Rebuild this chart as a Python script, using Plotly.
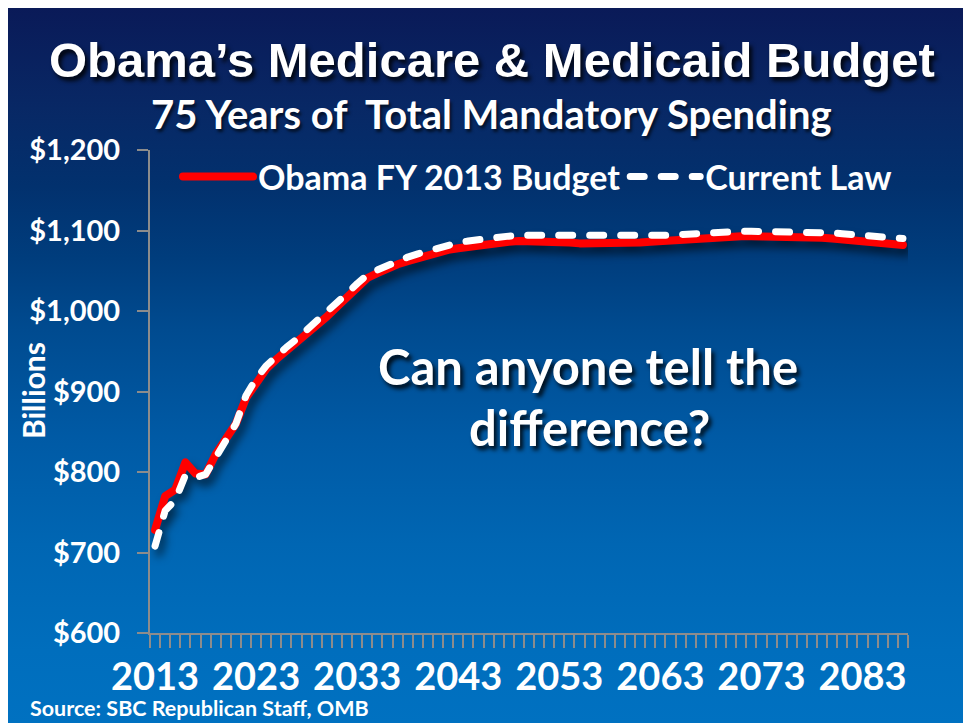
import base64
import plotly.graph_objects as go

# ---------------- data ----------------
years = list(range(2013, 2088))
obama_fy2013 = [
    728, 770, 778, 812, 798, 797, 822, 842, 860, 892,
    912, 928, 940, 950, 961, 971, 982, 993, 1005, 1017,
    1029, 1041, 1047, 1053, 1058, 1062, 1066, 1070, 1073, 1076,
    1078, 1080, 1082, 1084, 1085, 1086, 1087, 1087, 1086, 1086,
    1085, 1085, 1084, 1084, 1083, 1083, 1084, 1084, 1085, 1086,
    1087, 1088, 1089, 1090, 1091, 1091, 1092, 1092, 1093, 1093,
    1093, 1093, 1093, 1092, 1092, 1091, 1091, 1090, 1089, 1088,
    1087, 1086, 1085, 1083, 1082,
]
current_law = [
    708, 752, 765, 796, 793, 797, 818, 840, 860, 895,
    916, 932, 944, 955, 965, 976, 987, 998, 1010, 1022,
    1034, 1045, 1051, 1057, 1062, 1067, 1071, 1075, 1079, 1082,
    1085, 1087, 1089, 1091, 1092, 1093, 1094, 1094, 1094, 1094,
    1093, 1093, 1092, 1092, 1092, 1092, 1092, 1092, 1092, 1093,
    1093, 1094, 1095, 1096, 1097, 1097, 1098, 1098, 1099, 1099,
    1099, 1099, 1099, 1099, 1099, 1098, 1098, 1097, 1096, 1095,
    1094, 1093, 1092, 1091, 1090,
]
series_names = ["Obama FY 2013 Budget", "Current Law"]
y_tick_values = [600, 700, 800, 900, 1000, 1100, 1200]
y_tick_labels = ["$600", "$700", "$800", "$900", "$1,000", "$1,100", "$1,200"]
x_label_years = [2013, 2023, 2033, 2043, 2053, 2063, 2073, 2083]

title_text = "Obama\u2019s Medicare & Medicaid Budget"
subtitle_text = "75 Years of&nbsp; Total Mandatory Spending"
question_lines = ["Can anyone tell the", "difference?"]
source_text = "Source: SBC Republican Staff, OMB"
y_title = "Billions"

# ---------------- layout helpers ----------------
W, H = 963, 723
L, R, T, B = 150, 908, 150, 633


def px(x):
    return (x - L) / (R - L)


def py(y):
    return (B - y) / (B - T)


CAL = "Lato, 'Open Sans', sans-serif"
GRAY = "#8c8c8c"

# gradient background as an svg image
stops = [
    (0.00, "#0a1a58"), (0.14, "#082865"), (0.25, "#02316e"), (0.35, "#003d7d"),
    (0.45, "#004b90"), (0.60, "#005aa5"), (0.75, "#0066b3"), (0.90, "#006ebd"),
    (1.00, "#0071c1"),
]
stop_xml = "".join(f'<stop offset="{o}" stop-color="{c}"/>' for o, c in stops)
svg = (
    '<svg xmlns="http://www.w3.org/2000/svg" width="100" height="100" preserveAspectRatio="none">'
    f'<defs><linearGradient id="g" x1="0" y1="0" x2="0" y2="1">{stop_xml}</linearGradient></defs>'
    '<rect width="100" height="100" fill="url(#g)"/></svg>'
)
bg_src = "data:image/svg+xml;base64," + base64.b64encode(svg.encode()).decode()

fig = go.Figure()
fig.add_trace(go.Scatter(
    x=years, y=obama_fy2013, name=series_names[0], mode="lines",
    line=dict(color="#ff0000", width=8),
))
fig.add_trace(go.Scatter(
    x=years, y=current_law, name=series_names[1], mode="lines",
    line=dict(color="#ffffff", width=7, dash="14px,17px"),
))

fig.update_layout(
    width=W, height=H,
    margin=dict(l=L, r=W - R, t=T, b=H - B, pad=0),
    paper_bgcolor="#ffffff",
    plot_bgcolor="rgba(0,0,0,0)",
    showlegend=True,
    legend=dict(
        orientation="h", x=px(178), y=py(148), xanchor="left", yanchor="top",
        font=dict(family=CAL, size=34, color="white", weight=700),
        bgcolor="rgba(0,0,0,0)", itemwidth=70, traceorder="normal",
    ),
    images=[dict(
        source=bg_src, xref="paper", yref="paper",
        x=px(8), y=py(8), sizex=px(W) - px(8), sizey=py(8) - py(H),
        xanchor="left", yanchor="top", sizing="stretch", layer="below",
    )],
    xaxis=dict(
        range=[2012.5, 2087.5], showgrid=False, zeroline=False,
        showline=True, linecolor=GRAY, linewidth=2,
        tickmode="array", tickvals=x_label_years, ticktext=[str(v) for v in x_label_years],
        ticks="", ticklabelstandoff=9,
        tickfont=dict(family=CAL, size=38, color="white", weight=700),
        minor=dict(ticks="outside", tick0=2012.5, dtick=1, ticklen=13, tickcolor=GRAY,
                   tickwidth=2, showgrid=False),
    ),
    yaxis=dict(
        range=[600, 1200], showgrid=False, zeroline=False,
        showline=True, linecolor=GRAY, linewidth=2,
        tickmode="array", tickvals=y_tick_values, ticktext=y_tick_labels,
        ticks="outside", ticklen=11, tickcolor=GRAY, tickwidth=2,
        ticklabelstandoff=11,
        tickfont=dict(family=CAL, size=29, color="white", weight=700),
    ),
)

shadow_big = "3px 4px 4px rgba(0,0,0,0.85)"
ann = [
    dict(text=title_text, x=px(492), y=py(60), xanchor="center", yanchor="middle",
         font=dict(family="'Liberation Sans', Arial, sans-serif", size=49, color="white",
                   weight=700, shadow=shadow_big)),
    dict(text=subtitle_text, x=px(491), y=py(114), xanchor="center", yanchor="middle",
         font=dict(family=CAL, size=40, color="white", weight=700,
                   shadow="2px 3px 3px rgba(0,0,0,0.6)")),
    dict(text=question_lines[0], x=px(588), y=py(366), xanchor="center", yanchor="middle",
         font=dict(family=CAL, size=49, color="white", weight=700, shadow=shadow_big)),
    dict(text=question_lines[1], x=px(589), y=py(427), xanchor="center", yanchor="middle",
         font=dict(family=CAL, size=49, color="white", weight=700, shadow=shadow_big)),
    dict(text=source_text, x=px(28), y=py(708), xanchor="left", yanchor="middle",
         font=dict(family=CAL, size=21.5, color="white", weight=700)),
    dict(text=y_title, x=px(33), y=py(390), xanchor="center", yanchor="middle", textangle=-90,
         font=dict(family=CAL, size=30, color="white", weight=700)),
]
for a in ann:
    a.update(xref="paper", yref="paper", showarrow=False)
fig.update_layout(annotations=ann)

post = """
var s = document.createElement('style');
s.innerHTML = '.js-line{stroke-linecap:round;stroke-linejoin:round;}' +
  ' g.scatterlayer{filter:drop-shadow(4px 7px 4px rgba(0,0,0,0.55));}';
document.head.appendChild(s);
"""
fig.write_html("out.html", post_script=post)
